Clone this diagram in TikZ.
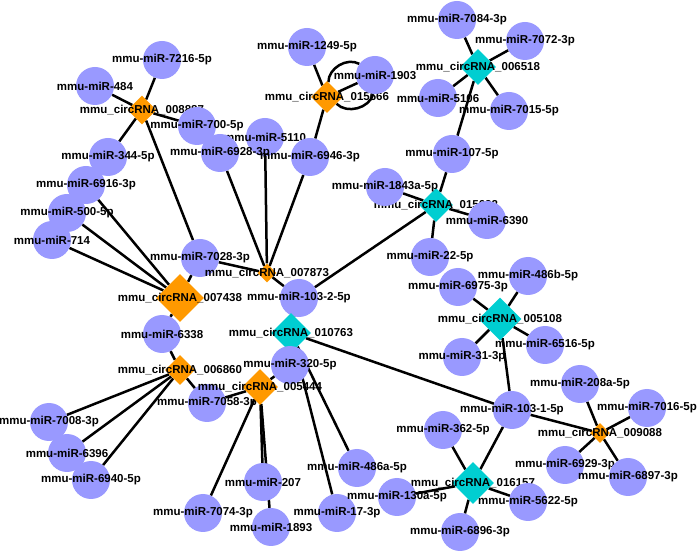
\documentclass[tikz,border=0pt]{standalone}
\usepackage{fontspec}
\setmainfont{Liberation Sans}
\usepackage{tikz}
\usetikzlibrary{shapes.geometric,backgrounds}
\definecolor{mirblue}{RGB}{153,153,255}
\definecolor{circorange}{RGB}{255,153,0}
\definecolor{circcyan}{RGB}{0,206,209}

\begin{document}
\begin{tikzpicture}[
  x=1pt, y=-1pt,
  mir/.style={circle, fill=mirblue, minimum size=38pt, inner sep=0pt},
  circo/.style={diamond, aspect=1, inner sep=0pt, fill=circorange},
  circc/.style={diamond, aspect=1, inner sep=0pt, fill=circcyan},
  lbl/.style={font=\bfseries\fontsize{11.5}{12}\selectfont, inner sep=0pt},
  lnk/.style={line width=2.5pt}
]
\useasboundingbox (0,0) rectangle (697,553);

% circRNAs drawn first
\node[circo, minimum size=29pt, label={[lbl]center:mmu\_circRNA\_008887}] (c8887) at (142,110) {};
\node[circo, minimum size=48pt, label={[lbl]center:mmu\_circRNA\_007438}] (c7438) at (180,298) {};
\node[circo, minimum size=30pt, label={[lbl]center:mmu\_circRNA\_006860}] (c6860) at (180,370) {};
\node[circo, minimum size=32pt, label={[lbl]center:mmu\_circRNA\_015666}] (c15666) at (327,97) {};
\node[circc, minimum size=36pt, label={[lbl]center:mmu\_circRNA\_006518}] (c6518) at (478,67) {};
\node[circc, minimum size=34pt, label={[lbl]center:mmu\_circRNA\_015622}] (c15622) at (436,205) {};
\node[circc, minimum size=43pt, label={[lbl]center:mmu\_circRNA\_005108}] (c5108) at (500,319) {};
\node[circo, minimum size=20pt, label={[lbl]center:mmu\_circRNA\_009088}] (c9088) at (600,433) {};
\node[circc, minimum size=42pt, label={[lbl]center:mmu\_circRNA\_016157}] (c16157) at (473,483) {};

% miRNAs
\node[mir, label={[lbl]center:mmu-miR-7216-5p}] (m7216) at (162,60) {};
\node[mir, label={[lbl]center:mmu-miR-484}] (m484) at (95,86) {};
\node[mir, label={[lbl]center:mmu-miR-700-5p}] (m700) at (197,126) {};
\node[mir, label={[lbl]center:mmu-miR-344-5p}] (m344) at (108,157) {};
\node[mir, label={[lbl]center:mmu-miR-6916-3p}] (m6916) at (86,185) {};
\node[mir, label={[lbl]center:mmu-miR-500-5p}] (m500) at (67,213) {};
\node[mir, label={[lbl]center:mmu-miR-714}] (m714) at (52,240) {};
\node[mir, label={[lbl]center:mmu-miR-5110}] (m5110) at (265,137) {};
\node[mir, label={[lbl]center:mmu-miR-6928-3p}] (m6928) at (220,153) {};
\node[mir, label={[lbl]center:mmu-miR-6946-3p}] (m6946) at (310,157) {};
\node[mir, label={[lbl]center:mmu-miR-1249-5p}] (m1249) at (307,47) {};
\node[mir, label={[lbl]center:mmu-miR-1903}] (m1903) at (375,75) {};
\node[mir, label={[lbl]center:mmu-miR-7028-3p}] (m7028) at (200,258) {};
\node[circo, minimum size=19pt, label={[lbl]center:mmu\_circRNA\_007873}] (c7873) at (267,273) {};
\node[mir, label={[lbl]center:mmu-miR-6338}] (m6338) at (162,334) {};
\node[mir, label={[lbl]center:mmu-miR-103-2-5p}] (m103b) at (299,298) {};
\node[circc, minimum size=40pt, label={[lbl]center:mmu\_circRNA\_010763}] (c10763) at (291,333) {};
\node[mir, label={[lbl]center:mmu-miR-7008-3p}] (m7008) at (49,422) {};
\node[mir, label={[lbl]center:mmu-miR-6396}] (m6396) at (67,453) {};
\node[mir, label={[lbl]center:mmu-miR-6940-5p}] (m6940) at (91,480) {};
\node[mir, label={[lbl]center:mmu-miR-320-5p}] (m320) at (290,365) {};
\node[mir, label={[lbl]center:mmu-miR-7058-3p}] (m7058) at (207,403) {};
\node[circo, minimum size=36pt, label={[lbl]center:mmu\_circRNA\_005444}] (c5444) at (260,387) {};
\node[mir, label={[lbl]center:mmu-miR-7074-3p}] (m7074) at (203,513) {};
\node[mir, label={[lbl]center:mmu-miR-207}] (m207) at (263,482) {};
\node[mir, label={[lbl]center:mmu-miR-1893}] (m1893) at (271,527) {};
\node[mir, label={[lbl]center:mmu-miR-486a-5p}] (m486a) at (357,468) {};
\node[mir, label={[lbl]center:mmu-miR-17-3p}] (m17) at (337,513) {};
\node[mir, label={[lbl]center:mmu-miR-7084-3p}] (m7084) at (457,20) {};
\node[mir, label={[lbl]center:mmu-miR-7072-3p}] (m7072) at (525,41) {};
\node[mir, label={[lbl]center:mmu-miR-5106}] (m5106) at (438,98) {};
\node[mir, label={[lbl]center:mmu-miR-7015-5p}] (m7015) at (509,111) {};
\node[mir, label={[lbl]center:mmu-miR-107-5p}] (m107) at (452,154) {};
\node[mir, label={[lbl]center:mmu-miR-1843a-5p}] (m1843a) at (385,187) {};
\node[mir, label={[lbl]center:mmu-miR-6390}] (m6390) at (487,220) {};
\node[mir, label={[lbl]center:mmu-miR-22-5p}] (m22) at (430,257) {};
\node[mir, label={[lbl]center:mmu-miR-6975-3p}] (m6975) at (458,287) {};
\node[mir, label={[lbl]center:mmu-miR-486b-5p}] (m486b) at (528,276) {};
\node[mir, label={[lbl]center:mmu-miR-31-3p}] (m31) at (462,357) {};
\node[mir, label={[lbl]center:mmu-miR-6516-5p}] (m6516) at (545,345) {};
\node[mir, label={[lbl]center:mmu-miR-103-1-5p}] (m103a) at (512,410) {};
\node[mir, label={[lbl]center:mmu-miR-208a-5p}] (m208a) at (580,384) {};
\node[mir, label={[lbl]center:mmu-miR-7016-5p}] (m7016) at (647,408) {};
\node[mir, label={[lbl]center:mmu-miR-6929-3p}] (m6929) at (565,465) {};
\node[mir, label={[lbl]center:mmu-miR-6897-3p}] (m6897) at (628,477) {};
\node[mir, label={[lbl]center:mmu-miR-362-5p}] (m362) at (443,430) {};
\node[mir, label={[lbl]center:mmu-miR-130a-5p}] (m130a) at (397,497) {};
\node[mir, label={[lbl]center:mmu-miR-5622-5p}] (m5622) at (528,502) {};
\node[mir, label={[lbl]center:mmu-miR-6896-3p}] (m6896) at (460,532) {};

% edges behind the nodes
\begin{scope}[on background layer]
\draw[lnk] (c8887) -- (m7216);
\draw[lnk] (c8887) -- (m484);
\draw[lnk] (c8887) -- (m700);
\draw[lnk] (c8887) -- (m344);
\draw[lnk] (c8887) -- (m7028);

\draw[lnk] (c7438) -- (m6916);
\draw[lnk] (c7438) -- (m500);
\draw[lnk] (c7438) -- (m714);
\draw[lnk] (c7438) -- (m7028);
\draw[lnk] (c7438) -- (m6338);

\draw[lnk] (c6860) -- (m6338);
\draw[lnk] (c6860) -- (m7008);
\draw[lnk] (c6860) -- (m6396);
\draw[lnk] (c6860) -- (m6940);
\draw[lnk] (c6860) -- (m7058);

\draw[lnk] (c5444) -- (m7058);
\draw[lnk] (c5444) -- (m320);
\draw[lnk] (c5444) -- (m7074);
\draw[lnk] (c5444) -- (m207);
\draw[lnk] (c5444) -- (m1893);

\draw[lnk] (c10763) -- (m103b);
\draw[lnk] (c10763) -- (m320);
\draw[lnk] (c10763) -- (m103a);
\draw[lnk] (c10763) -- (m486a);
\draw[lnk] (c10763) -- (m17);

\draw[lnk] (c7873) -- (m6928);
\draw[lnk] (c7873) -- (m5110);
\draw[lnk] (c7873) -- (m6946);
\draw[lnk] (c7873) -- (m7028);
\draw[lnk] (c7873) -- (m103b);

\draw[lnk] (c15666) -- (m1249);
\draw[lnk] (c15666) -- (m6946);
\draw[lnk] (c15666) -- (m1903);
\draw[lnk] (c15666) to[bend left=60] (m1903);
\draw[lnk] (c15666) to[bend right=60] (m1903);

\draw[lnk] (c6518) -- (m7084);
\draw[lnk] (c6518) -- (m7072);
\draw[lnk] (c6518) -- (m5106);
\draw[lnk] (c6518) -- (m7015);
\draw[lnk] (c6518) -- (m107);

\draw[lnk] (c15622) -- (m107);
\draw[lnk] (c15622) -- (m1843a);
\draw[lnk] (c15622) -- (m6390);
\draw[lnk] (c15622) -- (m22);
\draw[lnk] (c15622) -- (m103b);

\draw[lnk] (c5108) -- (m6975);
\draw[lnk] (c5108) -- (m486b);
\draw[lnk] (c5108) -- (m31);
\draw[lnk] (c5108) -- (m6516);
\draw[lnk] (c5108) -- (m103a);

\draw[lnk] (c9088) -- (m208a);
\draw[lnk] (c9088) -- (m7016);
\draw[lnk] (c9088) -- (m6929);
\draw[lnk] (c9088) -- (m6897);
\draw[lnk] (c9088) -- (m103a);

\draw[lnk] (c16157) -- (m362);
\draw[lnk] (c16157) -- (m130a);
\draw[lnk] (c16157) -- (m6896);
\draw[lnk] (c16157) -- (m5622);
\draw[lnk] (c16157) -- (m103a);
\end{scope}
\end{tikzpicture}
\end{document}
